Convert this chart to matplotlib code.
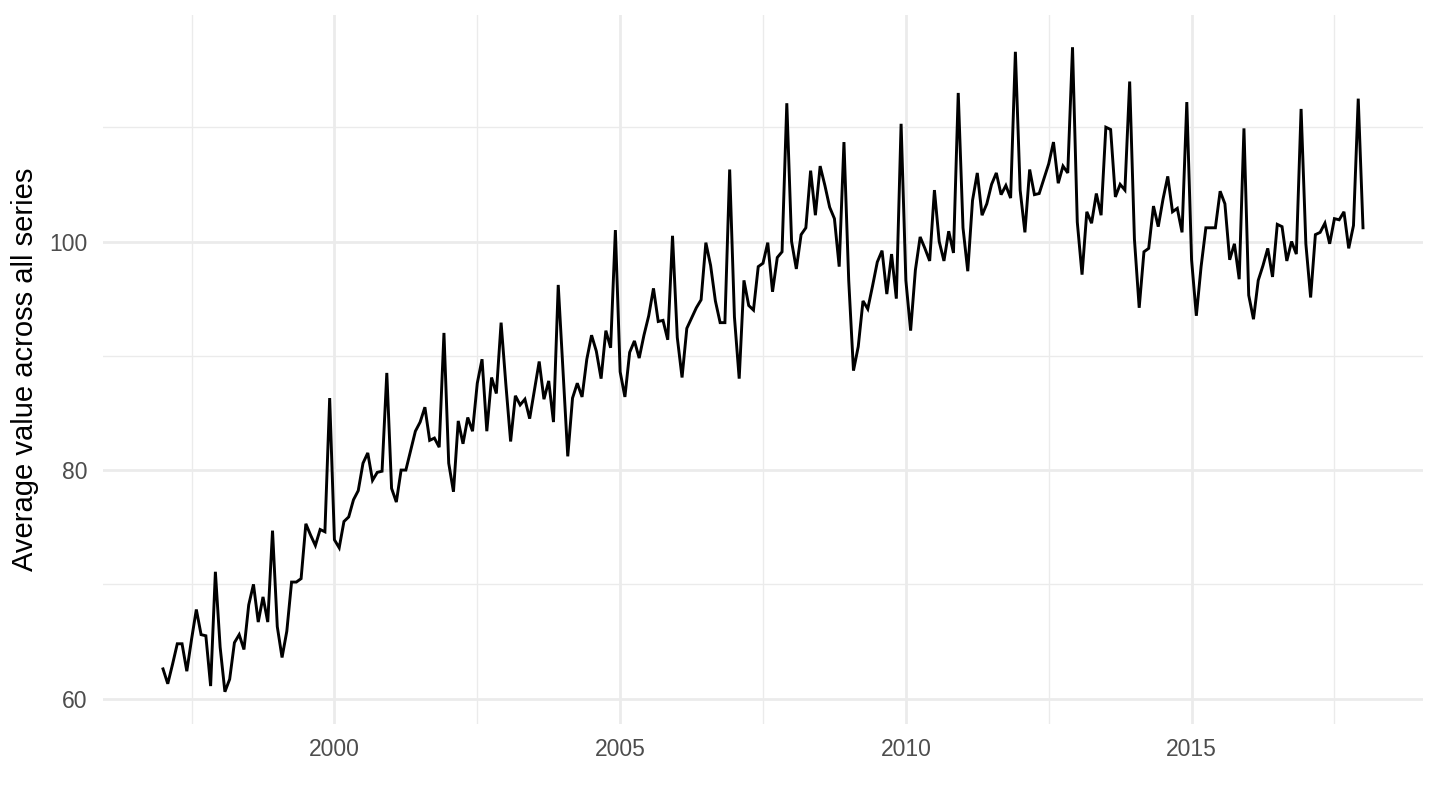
import numpy as np
import matplotlib
matplotlib.use("Agg")
import matplotlib.pyplot as plt
from matplotlib.ticker import MultipleLocator

plt.rcParams['font.family'] = ['Liberation Sans', 'DejaVu Sans']

# monthly averages, Jan 1997 .. Jan 2018
start_year = 1997
values = [
    62.6, 61.3, 63.0, 64.8, 64.8, 62.4, 65.2, 67.8, 65.6, 65.5, 61.1, 71.1,  # 1997
    64.5, 60.6, 61.7, 64.9, 65.6, 64.3, 68.2, 70.0, 66.7, 68.9, 66.7, 74.7,  # 1998
    66.3, 63.6, 65.9, 70.2, 70.2, 70.5, 75.3, 74.3, 73.4, 74.8, 74.6, 86.3,  # 1999
    73.9, 73.2, 75.5, 75.9, 77.4, 78.2, 80.6, 81.5, 79.1, 79.8, 79.9, 88.5,  # 2000
    78.4, 77.2, 80.0, 80.0, 81.7, 83.4, 84.2, 85.5, 82.6, 82.8, 82.0, 92.0,  # 2001
    80.6, 78.1, 84.3, 82.3, 84.6, 83.4, 87.6, 89.7, 83.4, 88.1, 86.7, 92.9,  # 2002
    87.5, 82.5, 86.5, 85.7, 86.2, 84.5, 87.0, 89.5, 86.2, 87.8, 84.2, 96.2,  # 2003
    88.7, 81.2, 86.3, 87.6, 86.4, 89.7, 91.8, 90.4, 88.0, 92.2, 90.7, 101.0,  # 2004
    88.6, 86.4, 90.3, 91.3, 89.8, 91.8, 93.5, 95.9, 93.0, 93.1, 91.4, 100.5,  # 2005
    91.6, 88.1, 92.4, 93.3, 94.2, 94.9, 99.9, 97.9, 94.8, 92.9, 92.9, 106.3,  # 2006
    93.4, 88.0, 96.6, 94.4, 94.0, 97.8, 98.1, 99.9, 95.6, 98.6, 99.1, 112.1,  # 2007
    100.0, 97.6, 100.6, 101.2, 106.2, 102.3, 106.6, 104.9, 103.0, 102.0, 97.8, 108.7,  # 2008
    96.6, 88.7, 90.8, 94.8, 94.1, 96.1, 98.2, 99.2, 95.4, 98.9, 95.0, 110.3,  # 2009
    96.6, 92.2, 97.5, 100.4, 99.4, 98.3, 104.5, 100.0, 98.3, 100.9, 99.0, 113.0,  # 2010
    101.2, 97.4, 103.6, 106.0, 102.3, 103.3, 105.0, 106.0, 104.1, 104.9, 103.8, 116.6,  # 2011
    104.5, 100.8, 106.3, 104.1, 104.2, 105.5, 106.8, 108.7, 105.1, 106.6, 106.0, 117.0,  # 2012
    101.7, 97.1, 102.6, 101.6, 104.2, 102.3, 110.0, 109.8, 103.9, 105.0, 104.5, 114.0,  # 2013
    100.2, 94.2, 99.1, 99.4, 103.1, 101.3, 103.7, 105.7, 102.6, 102.9, 100.8, 112.2,  # 2014
    98.4, 93.5, 97.8, 101.2, 101.2, 101.2, 104.4, 103.3, 98.4, 99.8, 96.7, 109.9,  # 2015
    95.3, 93.2, 96.6, 97.9, 99.4, 96.9, 101.5, 101.3, 98.3, 100.0, 98.9, 111.6,  # 2016
    99.8, 95.1, 100.6, 100.8, 101.6, 99.8, 102.0, 101.9, 102.6, 99.4, 101.4, 112.5,  # 2017
    101.2,  # 2018
]
dates = start_year + np.arange(len(values)) / 12.0

grid_col = '#EBEBEB'
text_col = '#4D4D4D'

fig = plt.figure(figsize=(14.4, 8.1), dpi=100)
ax = fig.add_axes([103 / 1440, 1 - 724 / 810, 1320 / 1440, 709 / 810])

ax.plot(dates, values, color='black', linewidth=2.1, solid_joinstyle='miter')
ax.margins(x=0.05, y=0.05)

ax.xaxis.set_major_locator(MultipleLocator(5))
ax.xaxis.set_minor_locator(MultipleLocator(2.5))
ax.yaxis.set_major_locator(MultipleLocator(20))
ax.yaxis.set_minor_locator(MultipleLocator(10))

ax.grid(which='major', color=grid_col, linewidth=1.95)
ax.grid(which='minor', color=grid_col, linewidth=0.97)
ax.set_axisbelow(True)
for s in ax.spines.values():
    s.set_visible(False)

ax.tick_params(which='both', length=0, labelsize=16.5, labelcolor=text_col)
ax.tick_params(axis='x', pad=10)
ax.tick_params(axis='y', pad=11)

ax.set_ylabel('Average value across all series', fontsize=21, color='black')
ax.yaxis.set_label_coords(-78 / 1320, 0.5)
ax.yaxis.label.set_verticalalignment('center')

plt.savefig('out.png', dpi=100)
